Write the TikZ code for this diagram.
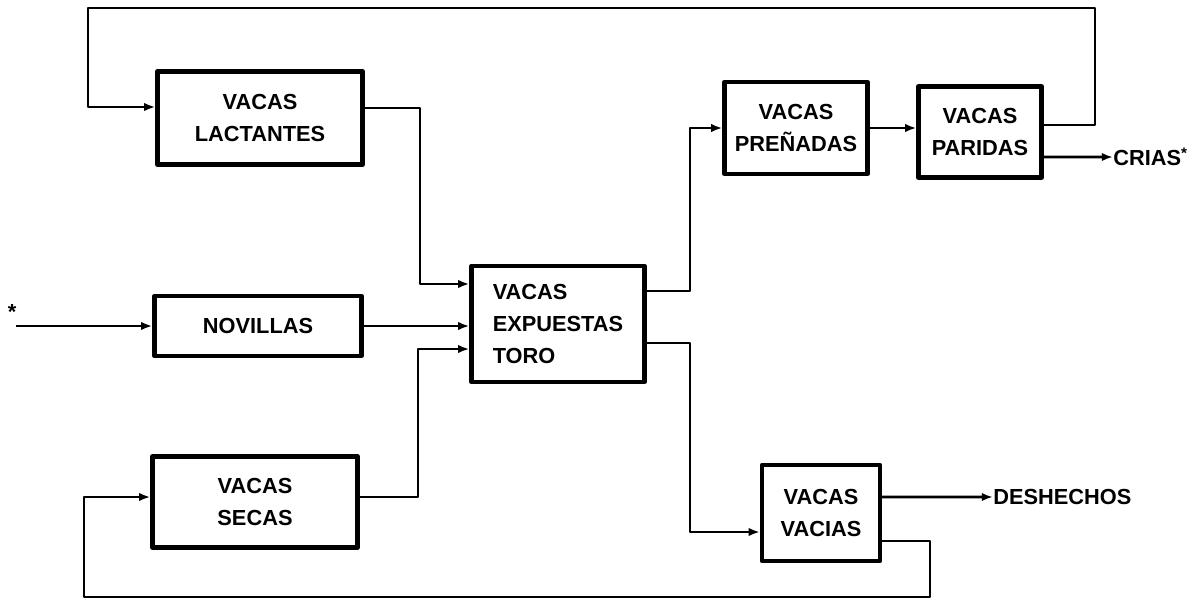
\documentclass[tikz,border=0pt]{standalone}
\usepackage{fontspec}
\setmainfont{Liberation Sans}
\usetikzlibrary{arrows.meta}
\begin{document}
\begin{tikzpicture}[x=0.025cm,y=-0.025cm,line join=round,
  caja/.style={draw,line width=3pt,align=center,font=\bfseries\fontsize{15.5}{23}\selectfont},
  flujo/.style={line width=2pt,-{Latex[length=8pt,width=6pt]}},
  etiq/.style={font=\bfseries\fontsize{15.5}{23}\selectfont,inner sep=0pt}]
\useasboundingbox (0,0) rectangle (1204,605);

\node[caja,minimum width=5.125cm,minimum height=2.325cm] (lact) at (260,118) {VACAS\\LACTANTES};
\node[caja,minimum width=5.175cm,minimum height=1.5cm] (novi) at (258,326) {NOVILLAS};
\node[caja,minimum width=5.125cm,minimum height=2.275cm] (secas) at (255,502) {VACAS\\SECAS};
\node[caja,minimum width=4.325cm,minimum height=2.9cm,align=left] (expu) at (558,324) {VACAS\\EXPUESTAS\\TORO};
\node[caja,minimum width=3.575cm,minimum height=2.3cm] (pren) at (796,128) {VACAS\\PREÑADAS};
\node[caja,minimum width=3.075cm,minimum height=2.275cm] (pari) at (980,132) {VACAS\\PARIDAS};
\node[caja,minimum width=2.95cm,minimum height=2.4cm] (vaci) at (821,513) {VACAS\\VACIAS};

\node[etiq,anchor=west] (crias) at (1113,157) {CRIAS\textsuperscript{*}};
\node[etiq,anchor=west] (desh) at (993,497) {DESHECHOS};
\node[etiq] (ast) at (12,312) {*};

\coordinate (inp) at (16,326);
\coordinate (c1) at (420,200);
\coordinate (c3) at (418,420);
\coordinate (c5) at (690,200);
\coordinate (c6) at (690,430);
\coordinate (ar) at (1095,8);
\coordinate (al) at (88,8);
\coordinate (ab) at (84,597);
\coordinate (db) at (930,597);

\draw[flujo] (inp) -- (novi.west);
\draw[flujo] (novi.east) -- (novi.east -| expu.west);
\draw[flujo] ([yshift=.25cm]lact.east) -| (c1) |- ([yshift=1cm]expu.west);
\draw[flujo] ([yshift=.125cm]secas.east) -| (c3) |- ([yshift=-.625cm]expu.west);
\draw[flujo] ([yshift=.825cm]expu.east) -| (c5) |- (pren.west);
\draw[flujo] ([yshift=-.475cm]expu.east) -| (c6) |- ([yshift=-.475cm]vaci.west);
\draw[flujo] (pren.east) -- (pren.east -| pari.west);
\draw[flujo] ([yshift=-.625cm]pari.east) -- (crias.west);
\draw[flujo] ([yshift=.175cm]pari.east) -| (ar) -- (al) |- ([yshift=.275cm]lact.west);
\draw[flujo] ([yshift=.4cm]vaci.east) -- (desh.west);
\draw[flujo] ([yshift=-.7cm]vaci.east) -| (db) -- (ab) |- ([yshift=.125cm]secas.west);
\end{tikzpicture}
\end{document}
